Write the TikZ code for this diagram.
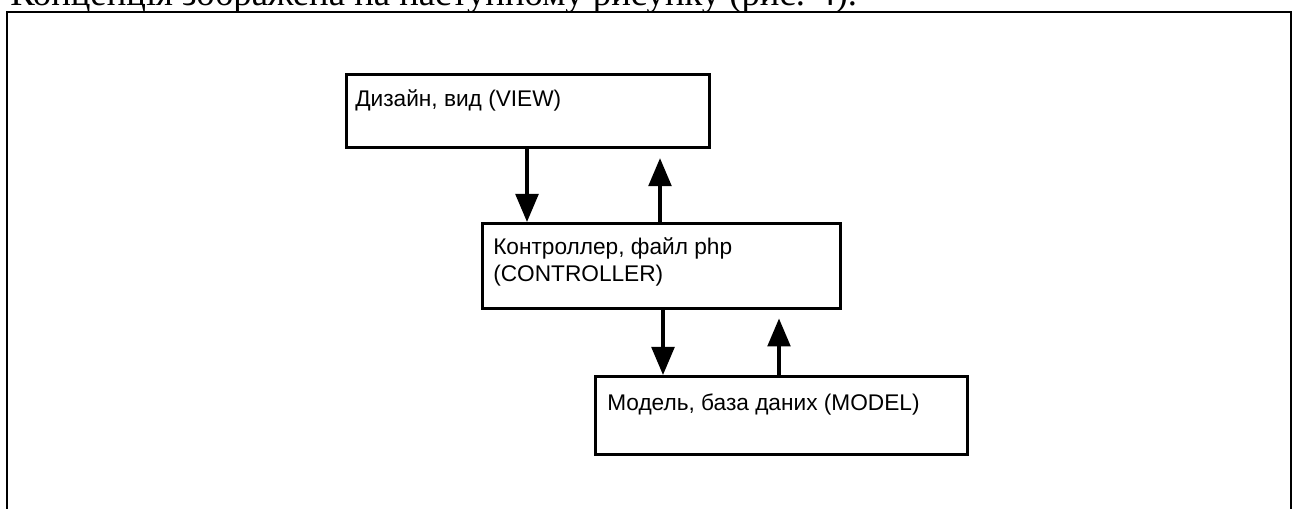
\documentclass[tikz,border=0pt]{standalone}
\usepackage{fontspec}
\setmainfont{Liberation Serif}
\newfontfamily\boxfont{Liberation Sans}
\usetikzlibrary{arrows.meta}

\tikzset{
  layer/.style={draw, line width=2.6pt, rectangle, anchor=north west, inner sep=0pt},
  caption/.style={anchor=base west, inner sep=0pt, font=\boxfont\fontsize{17}{20.3}\selectfont},
  flow/.style={line width=2.6pt, -{Triangle[width=17pt,length=21pt]}},
}

\begin{document}
\begin{tikzpicture}[x=0.75pt,y=-0.75pt]
  \useasboundingbox (0,0) rectangle (1293,509);
  \clip (0,0) rectangle (1293,509);

  % running text above the figure frame
  \node[anchor=base west, inner sep=0pt, font=\fontsize{27.5}{31}\selectfont] (intro) at (10,6)
    {Концепція зображена на наступному рисунку (рис. 4).};

  % figure frame
  \draw[line width=1.6pt] (7,520) -- (7,12) -- (1291,12) -- (1291,520);

  % the three layers
  \node[layer, minimum width=363*0.75pt, minimum height=73*0.75pt] (view) at (345,73) {};
  \node[caption] (viewtext) at (355,107) {Дизайн, вид (VIEW)};

  \node[layer, minimum width=358*0.75pt, minimum height=85*0.75pt] (ctrl) at (481,222) {};
  \node[caption] (ctrltext) at (493,255) {Контроллер, файл php};
  \node[caption] (ctrltext2) at (493,282) {(CONTROLLER)};

  \node[layer, minimum width=372*0.75pt, minimum height=78*0.75pt] (model) at (594,375) {};
  \node[caption] (modeltext) at (607,411) {Модель, база даних (MODEL)};

  % arrow columns
  \coordinate (c1) at (527,0);
  \coordinate (c2) at (660,0);
  \coordinate (c3) at (663,0);
  \coordinate (c4) at (779,0);

  \draw[flow] (view.south -| c1) -- (ctrl.north -| c1);
  \draw[flow, shorten >=6.5pt] (ctrl.north -| c2) -- (view.south -| c2);
  \draw[flow] (ctrl.south -| c3) -- (model.north -| c3);
  \draw[flow, shorten >=6pt] (model.north -| c4) -- (ctrl.south -| c4);
\end{tikzpicture}
\end{document}
